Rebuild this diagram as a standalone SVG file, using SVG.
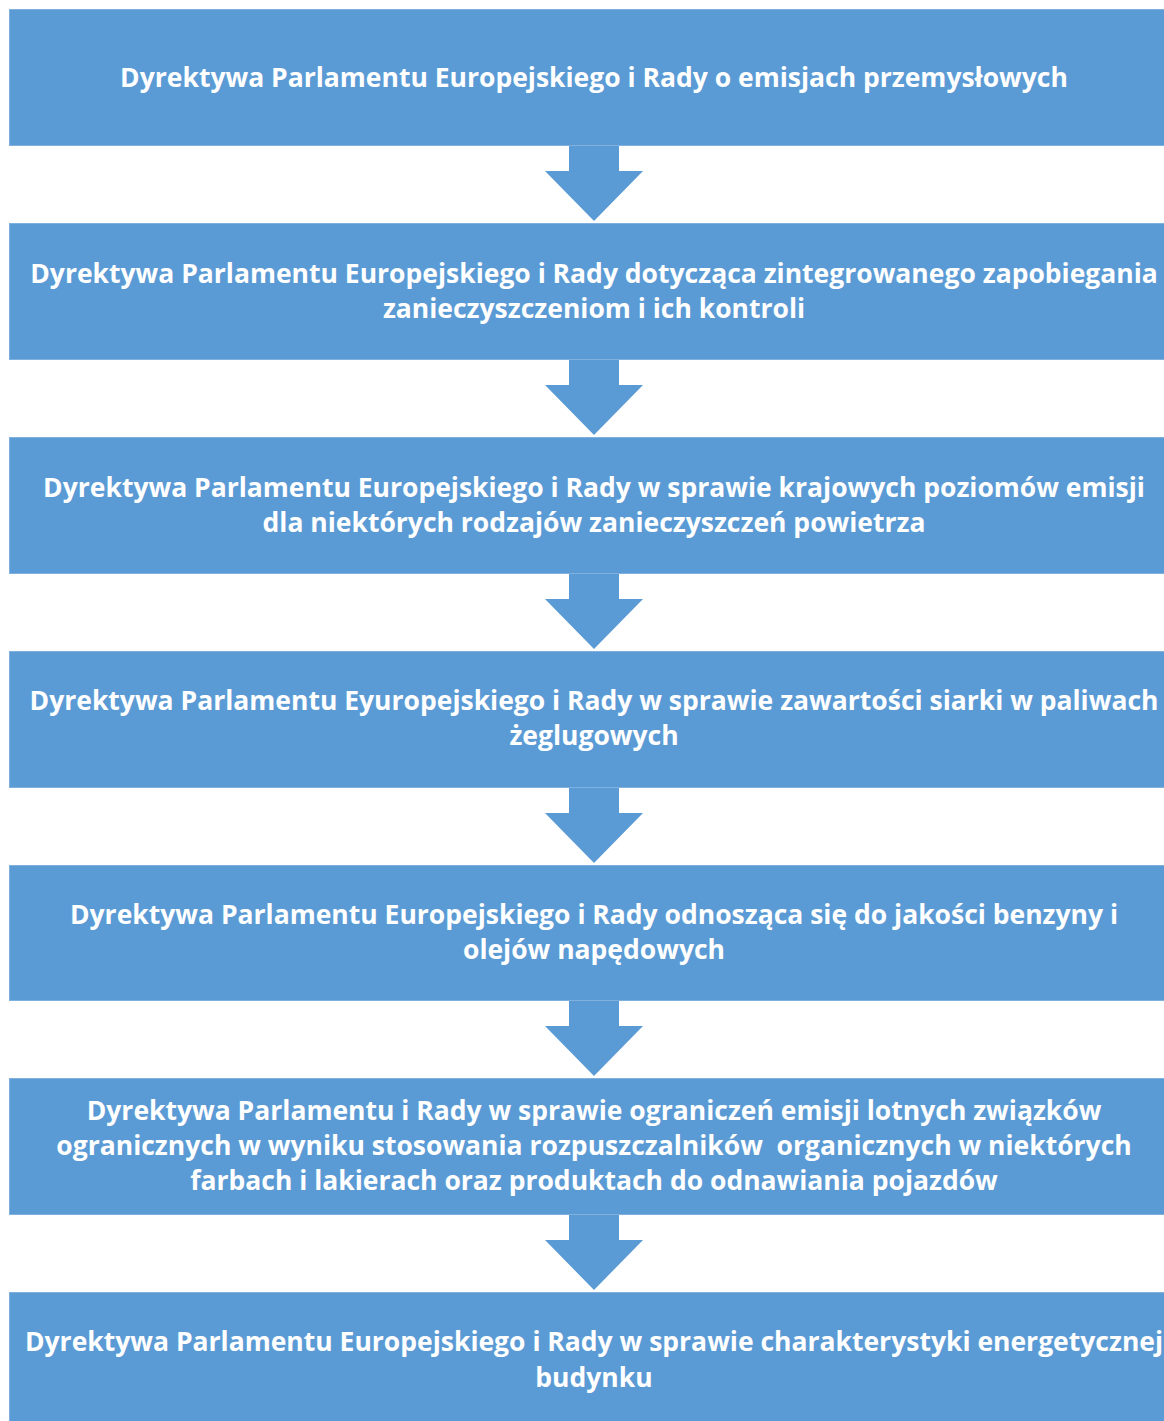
<svg xmlns="http://www.w3.org/2000/svg" width="1164" height="1421" viewBox="0 0 1164 1421">
<style>
.box{fill:#5B9BD5;stroke:#7FB0DE;stroke-width:1}
.arr{fill:#5B9BD5}
.t{font-family:"Open Sans","DejaVu Sans",sans-serif;font-weight:700;font-size:26.5px;fill:#FFFFFF;text-anchor:middle}
</style>
<rect width="1164" height="1421" fill="#FFFFFF"/>
<g id="connectors">
<polygon class="arr" points="569,145 619,145 619,171 643,171 594,221 545,171 569,171"/>
<polygon class="arr" points="569,359 619,359 619,385 643,385 594,435 545,385 569,385"/>
<polygon class="arr" points="569,573 619,573 619,599 643,599 594,649 545,599 569,599"/>
<polygon class="arr" points="569,787 619,787 619,813 643,813 594,863 545,813 569,813"/>
<polygon class="arr" points="569,1000 619,1000 619,1026 643,1026 594,1076 545,1026 569,1026"/>
<polygon class="arr" points="569,1214 619,1214 619,1240 643,1240 594,1290 545,1240 569,1240"/>
</g>
<g id="n1"><rect class="box" x="9.5" y="9.5" width="1170" height="136"/>
<text class="t" x="594" y="87">Dyrektywa Parlamentu Europejskiego i Rady o emisjach przemysłowych</text></g>
<g id="n2"><rect class="box" x="9.5" y="223.5" width="1170" height="136"/>
<text class="t" x="594" y="283">Dyrektywa Parlamentu Europejskiego i Rady dotycząca zintegrowanego zapobiegania</text>
<text class="t" x="594" y="318">zanieczyszczeniom i ich kontroli</text></g>
<g id="n3"><rect class="box" x="9.5" y="437.5" width="1170" height="136"/>
<text class="t" x="594" y="497">Dyrektywa Parlamentu Europejskiego i Rady w sprawie krajowych poziomów emisji</text>
<text class="t" x="594" y="532">dla niektórych rodzajów zanieczyszczeń powietrza</text></g>
<g id="n4"><rect class="box" x="9.5" y="651.5" width="1170" height="136"/>
<text class="t" x="594" y="710">Dyrektywa Parlamentu Eyuropejskiego i Rady w sprawie zawartości siarki w paliwach</text>
<text class="t" x="594" y="745">żeglugowych</text></g>
<g id="n5"><rect class="box" x="9.5" y="865.5" width="1170" height="135"/>
<text class="t" x="594" y="924">Dyrektywa Parlamentu Europejskiego i Rady odnosząca się do jakości benzyny i</text>
<text class="t" x="594" y="959">olejów napędowych</text></g>
<g id="n6"><rect class="box" x="9.5" y="1078.5" width="1170" height="136"/>
<text class="t" x="594" y="1120">Dyrektywa Parlamentu i Rady w sprawie ograniczeń emisji lotnych związków</text>
<text class="t" x="594" y="1155" xml:space="preserve">ogranicznych w wyniku stosowania rozpuszczalników  organicznych w niektórych</text>
<text class="t" x="594" y="1190">farbach i lakierach oraz produktach do odnawiania pojazdów</text></g>
<g id="n7"><rect class="box" x="9.5" y="1292.5" width="1170" height="136"/>
<text class="t" x="594" y="1351" font-size="26.3">Dyrektywa Parlamentu Europejskiego i Rady w sprawie charakterystyki energetycznej</text>
<text class="t" x="594" y="1387">budynku</text></g>
</svg>
